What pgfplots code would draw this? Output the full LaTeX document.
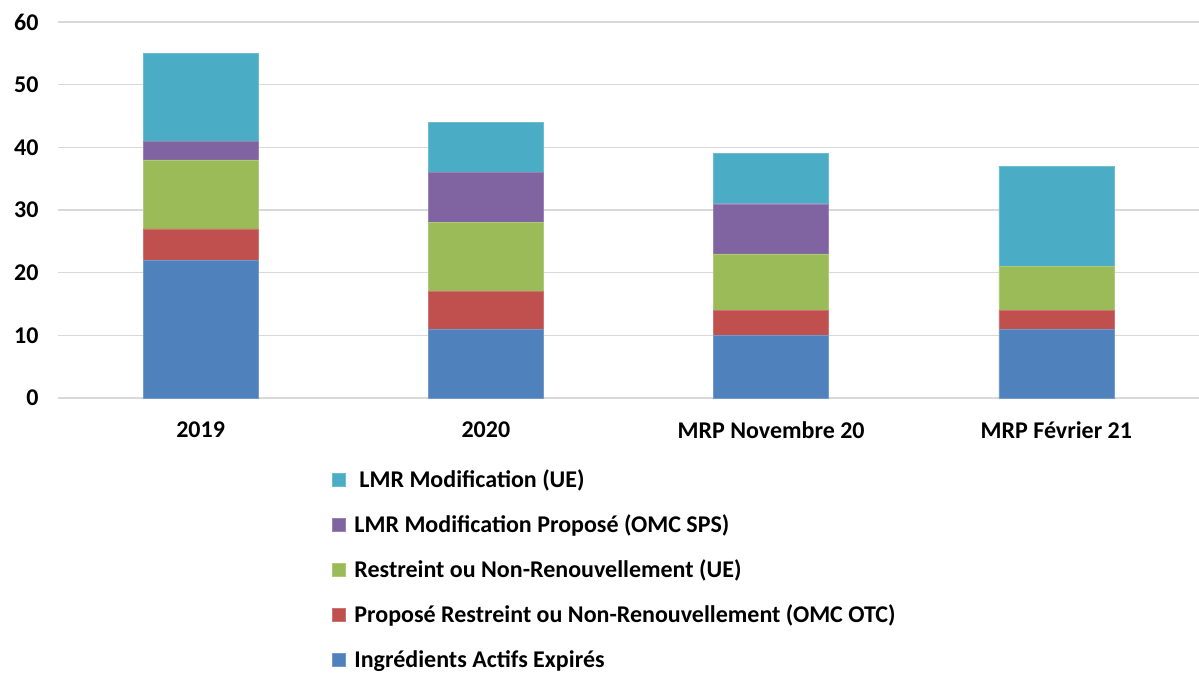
\documentclass[border=0pt]{standalone}
\usepackage{fontspec}
\setmainfont{Carlito}
\usepackage{pgfplots}
\pgfplotsset{compat=1.18}
\definecolor{cBlue}{HTML}{4F81BD}
\definecolor{cRed}{HTML}{C0504D}
\definecolor{cGreen}{HTML}{9BBB59}
\definecolor{cPurple}{HTML}{8064A2}
\definecolor{cTeal}{HTML}{4BACC6}
\definecolor{cGrid}{HTML}{D9D9D9}
\begin{document}
\begin{tikzpicture}
\path[use as bounding box] (0,0) rectangle (1199pt,673pt);
\begin{axis}[
  at={(58pt,275pt)}, anchor=south west,
  scale only axis, width=1141pt, height=376pt,
  ybar stacked, bar width=115pt,
  xmin=-0.5, xmax=3.5, ymin=0, ymax=60,
  xtick={0,1,2,3},
  xticklabels={2019,2020,MRP Novembre 20,MRP Février 21},
  ytick={0,10,20,30,40,50,60},
  ymajorgrids, grid style={cGrid, line width=1.5pt},
  axis line style={draw=none},
  major tick style={draw=none},
  tick label style={font=\fontsize{24}{28}\selectfont\bfseries},
  /pgf/number format/assume math mode=true,
  xticklabel style={yshift=-20pt},
  yticklabel style={xshift=-16pt},
  reverse legend,
  legend style={at={(0.240,-0.185)}, anchor=north west, draw=none, fill=none,
    font=\fontsize{24}{28}\selectfont\bfseries, row sep=21.8pt,
    legend cell align=left, inner sep=0pt,
    /tikz/every odd column/.style={column sep=7pt}},
  legend image code/.code={\fill[#1] (0pt,-6.5pt) rectangle (13pt,6.5pt);},
]
\addplot[fill=cBlue, draw=cBlue!80!white] coordinates {(0,22) (1,11) (2,10) (3,11)};
\addlegendentry{Ingrédients Actifs Expirés}
\addplot[fill=cRed, draw=cRed!80!white] coordinates {(0,5) (1,6) (2,4) (3,3)};
\addlegendentry{Proposé Restreint ou Non-Renouvellement (OMC OTC)}
\addplot[fill=cGreen, draw=cGreen!80!white] coordinates {(0,11) (1,11) (2,9) (3,7)};
\addlegendentry{Restreint ou Non-Renouvellement (UE)}
\addplot[fill=cPurple, draw=cPurple!80!white] coordinates {(0,3) (1,8) (2,8) (3,0)};
\addlegendentry{LMR Modification Proposé (OMC SPS)}
\addplot[fill=cTeal, draw=cTeal!80!white] coordinates {(0,14) (1,8) (2,8) (3,16)};
\addlegendentry{\hspace{5pt}LMR Modification (UE)}
\end{axis}
\end{tikzpicture}
\end{document}
